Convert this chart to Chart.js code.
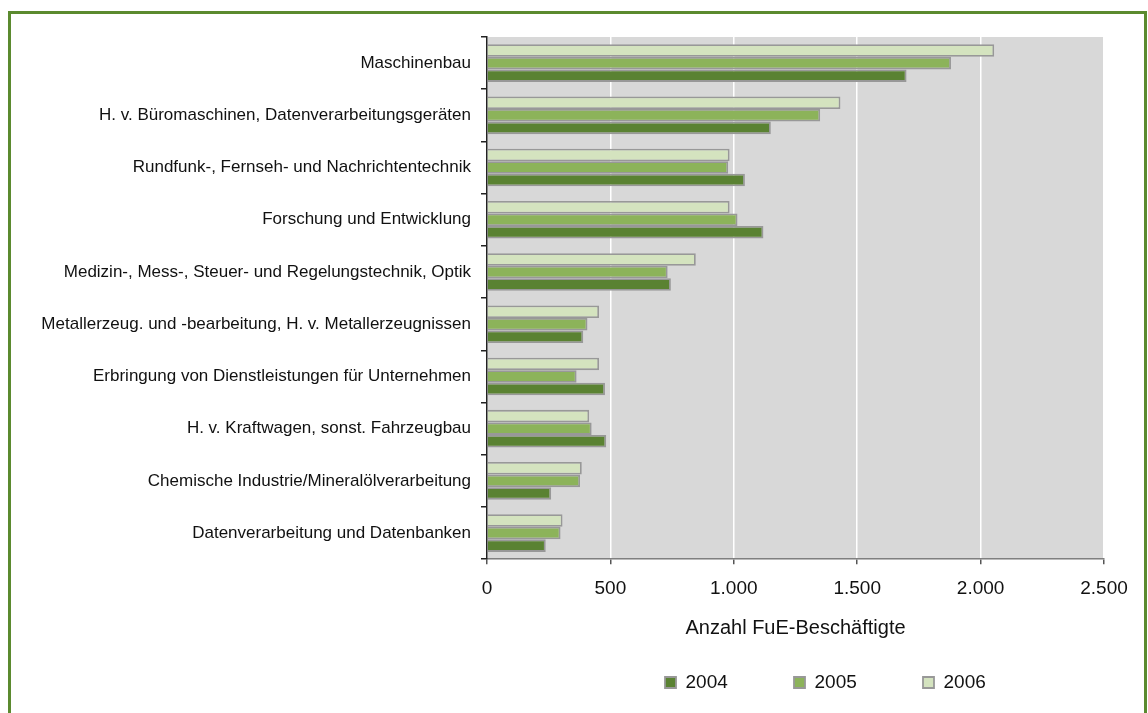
<!DOCTYPE html>
<html>
<head>
<meta charset="utf-8">
<script src="https://cdn.jsdelivr.net/npm/chart.js@4.4.1/dist/chart.umd.min.js"></script>
<style>
  html, body { margin: 0; padding: 0; background: #ffffff; overflow: hidden; }
  #frame { position: absolute; left: 8px; top: 11px; width: 1133px; height: 760px;
           border: 3px solid #5b8a2f; box-sizing: content-box; pointer-events: none; }
  #wrap { position: absolute; left: 0; top: 0; width: 1148px; height: 713px; }
</style>
</head>
<body>
<div id="wrap"><canvas id="c" width="1148" height="713"></canvas></div>
<div id="frame"></div>
<script>
const categories = [
  "Maschinenbau",
  "H. v. Büromaschinen, Datenverarbeitungsgeräten",
  "Rundfunk-, Fernseh- und Nachrichtentechnik",
  "Forschung und Entwicklung",
  "Medizin-, Mess-, Steuer- und Regelungstechnik, Optik",
  "Metallerzeug. und -bearbeitung, H. v. Metallerzeugnissen",
  "Erbringung von Dienstleistungen für Unternehmen",
  "H. v. Kraftwagen, sonst. Fahrzeugbau",
  "Chemische Industrie/Mineralölverarbeitung",
  "Datenverarbeitung und Datenbanken"
];
const values2004 = [1700, 1150, 1045, 1120, 745, 390, 478, 483, 260, 238];
const values2005 = [1880, 1350, 977, 1015, 732, 407, 363, 424, 377, 298];
const values2006 = [2055, 1432, 983, 983, 846, 454, 454, 414, 384, 306];
const xTicks = [0, 500, 1000, 1500, 2000, 2500];
const axisTitle = "Anzahl FuE-Beschäftigte";

const FONT = "'Liberation Sans', Arial, sans-serif";

function fmt(v) {
  return String(v).replace(/\B(?=(\d{3})+(?!\d))/g, '.');
}

const plotBg = {
  id: 'plotBg',
  beforeDraw(chart) {
    const {ctx, chartArea: a} = chart;
    ctx.save();
    ctx.fillStyle = '#ffffff';
    ctx.fillRect(0, 0, chart.width, chart.height);
    ctx.fillStyle = '#d8d8d8';
    ctx.fillRect(a.left, a.top, a.right - a.left, a.bottom - a.top);
    ctx.restore();
  }
};

const shiftLegend = {
  id: 'shiftLegend',
  afterLayout(chart) {
    const l = chart.legend;
    if (l) { l.left += 51; l.right += 51; }
  }
};

const GAP = '        ';

new Chart(document.getElementById('c'), {
  type: 'bar',
  data: {
    labels: categories,
    datasets: [
      { label: '2006', data: values2006, backgroundColor: '#d4e3bf', borderColor: '#989898', borderWidth: 1.8 },
      { label: '2005', data: values2005, backgroundColor: '#8cb35a', borderColor: '#989898', borderWidth: 1.8 },
      { label: '2004', data: values2004, backgroundColor: '#5a8232', borderColor: '#989898', borderWidth: 1.8 }
    ]
  },
  options: {
    indexAxis: 'y',
    responsive: false,
    animation: false,
    devicePixelRatio: 1,
    datasets: { bar: { categoryPercentage: 0.72, barPercentage: 1.0 } },
    layout: { padding: { left: 0, right: 44, top: 37, bottom: 11 } },
    plugins: {
      tooltip: { enabled: false },
      legend: {
        position: 'bottom',
        fullSize: false,
        reverse: true,
        labels: {
          boxWidth: 11, boxHeight: 11,
          padding: 24,
          color: '#111111',
          font: { family: FONT, size: 19 },
          generateLabels(chart) {
            const items = Chart.defaults.plugins.legend.labels.generateLabels(chart);
            return items.map(it => Object.assign(it, { text: it.text + GAP }));
          }
        }
      }
    },
    scales: {
      x: {
        min: 0, max: 2500,
        afterBuildTicks(scale) { scale.ticks = xTicks.map(v => ({ value: v })); },
        ticks: {
          callback: (v) => fmt(v),
          color: '#111111',
          font: { family: FONT, size: 19 },
          padding: 13,
          maxRotation: 0
        },
        grid: { color: '#ffffff', lineWidth: 1.5, tickColor: '#555555', tickLength: 5, drawTicks: true },
        border: { display: true, color: '#7f7f7f', width: 1.5 },
        title: {
          display: true, text: axisTitle, color: '#111111',
          font: { family: FONT, size: 20 },
          padding: { top: 3, bottom: 9 }
        }
      },
      y: {
        offset: true,
        afterFit(scale) { scale.width = 487; },
        ticks: {
          color: '#111111',
          font: { family: FONT, size: 17 },
          padding: 10
        },
        grid: { offset: true, drawOnChartArea: false, tickColor: '#222222', tickLength: 6, lineWidth: 1.5 },
        border: { display: true, color: '#222222', width: 1.5 }
      }
    }
  },
  plugins: [plotBg, shiftLegend]
});
</script>
</body>
</html>
